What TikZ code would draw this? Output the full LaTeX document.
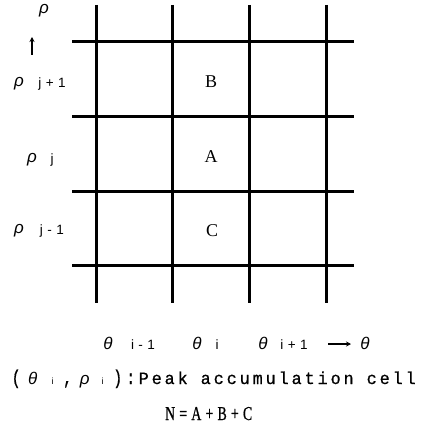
\documentclass[tikz,border=0pt]{standalone}
\usepackage{fontspec}
\usetikzlibrary{arrows.meta}
\setmainfont{Liberation Serif}
\newfontfamily\lsans{Liberation Sans}
\newfontfamily\lmono{Liberation Mono}[FakeStretch=0.75,FakeBold=0.6,LetterSpace=13]
\newfontfamily\lserifsp{Liberation Serif}[FakeStretch=0.8,FakeBold=0.8,LetterSpace=25]
\newcommand{\grk}[1]{{\lsans\itshape\fontsize{17}{17}\selectfont #1}}
\newcommand{\sbx}[1]{{\lsans\fontsize{13.5}{13.5}\selectfont #1}}
\newcommand{\tinyi}{{\lsans\fontsize{9}{9}\selectfont i}}
\newcommand{\putat}[2]{\rlap{\hskip #1pt\makebox[0pt]{#2}}}
\begin{document}
\begin{tikzpicture}[x=1pt,y=-1pt,
  gridline/.style={line width=3pt,line cap=butt},
  axisarrow/.style={line width=1.3pt,-{Stealth[length=5pt,width=5pt]}},
  lbl/.style={inner sep=0pt,anchor=center},
  cell/.style={inner sep=0pt,font=\fontsize{18}{18}\selectfont}]
\useasboundingbox (0,0) rectangle (428,428);
% grid
\foreach \x in {96,172,249,326} \draw[gridline] (\x,5) -- (\x,303);
\foreach \y in {42,116,191,265} \draw[gridline] (72,\y) -- (354,\y);
% cells
\node[cell] (B) at (211,82) {B};
\node[cell] (A) at (211,157) {A};
\node[cell] (C) at (212,231) {C};
% rho axis
\node[lbl] (rho) at (44,11) {\grk{ρ}};
\coordinate (ua) at (32,55);
\coordinate (ub) at (32,37);
\draw[axisarrow] (ua) -- (ub);
\node[lbl] (r1) at (19,84) {\grk{ρ}};
\node[lbl] (r1s) at (52,84) {\sbx{j\,\,+\,\,1}};
\node[lbl] (r2) at (32,160) {\grk{ρ}};
\node[lbl] (r2s) at (52,160) {\sbx{j}};
\node[lbl] (r3) at (19,231) {\grk{ρ}};
\node[lbl] (r3s) at (52,231) {\sbx{j\,\,-\,\,1}};
% theta axis
\node[lbl] (t1) at (108,343) {\grk{θ}};
\node[lbl] (t1s) at (143,345) {\sbx{i\,\,-\,\,1}};
\node[lbl] (t2) at (197,343) {\grk{θ}};
\node[lbl] (t2s) at (217,345) {\sbx{i}};
\node[lbl] (t3) at (263,343) {\grk{θ}};
\node[lbl] (t3s) at (294,345) {\sbx{i\,\,+\,\,1}};
\coordinate (ra) at (328,344);
\coordinate (rb) at (351,344);
\draw[axisarrow] (ra) -- (rb);
\node[lbl] (t4) at (365,343) {\grk{θ}};
% captions
\node[inner sep=0pt,anchor=base west] (cap) at (0,384) {%
  \putat{15.5}{\lmono\fontsize{20}{20}\selectfont (}%
  \putat{32}{\grk{θ}}%
  \putat{52}{\tinyi}%
  \putat{67}{\lmono\fontsize{20}{20}\selectfont ,}%
  \putat{84}{\grk{ρ}}%
  \putat{102}{\tinyi}%
  \putat{117}{\lmono\fontsize{20}{20}\selectfont )}%
  \putat{130}{\lmono\fontsize{20}{20}\selectfont :}%
  \rlap{\hskip 138pt\resizebox{277pt}{12.5pt}{\lmono Peak accumulation cell}}};
\node[inner sep=0pt,anchor=base west] (eq) at (165,420) {\resizebox{87pt}{13pt}{\lserifsp N=A+B+C}};
\end{tikzpicture}
\end{document}
